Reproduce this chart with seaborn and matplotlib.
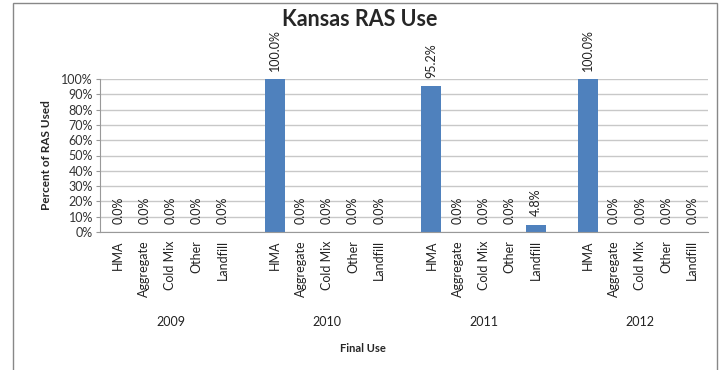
import pandas as pd
import matplotlib.pyplot as plt
import seaborn as sns
from matplotlib.patches import Rectangle

# data
years = ["2009", "2010", "2011", "2012"]
uses = ["HMA", "Aggregate", "Cold Mix", "Other", "Landfill"]
pct_2009 = [0.0, 0.0, 0.0, 0.0, 0.0]
pct_2010 = [100.0, 0.0, 0.0, 0.0, 0.0]
pct_2011 = [95.2, 0.0, 0.0, 0.0, 4.8]
pct_2012 = [100.0, 0.0, 0.0, 0.0, 0.0]
all_pct = [pct_2009, pct_2010, pct_2011, pct_2012]

rows = []
for y, vals in zip(years, all_pct):
    for u, v in zip(uses, vals):
        rows.append({"slot": f"{y}-{u}", "year": y, "use": u, "pct": v})
df = pd.DataFrame(rows)

# slot order with an empty slot between year groups
order = []
for i, y in enumerate(years):
    order += [f"{y}-{u}" for u in uses]
    if i < len(years) - 1:
        order.append(f"gap{i}")

sns.set_style("white")
plt.rcParams['font.family'] = ['Lato', 'DejaVu Sans']
fig = plt.figure(figsize=(7.27, 3.70), dpi=100)
ax = fig.add_axes([100 / 727, 1 - 232 / 370, 608 / 727, 153 / 370])

sns.barplot(data=df, x="slot", y="pct", order=order, color="#4F81BD",
            width=0.76, edgecolor="none", saturation=1, ax=ax, errorbar=None)

# value labels
lbls = [f"{v:.1f}%" for v in df["pct"]]
ax.bar_label(ax.containers[0], labels=lbls, rotation=90, padding=6,
             fontsize=9, color="#222222")

ax.set_ylim(0, 100)
ax.set_xlim(-0.7, len(order) - 0.4)
ax.set_yticks(range(0, 101, 10))
ax.set_yticklabels([f"{t}%" for t in range(0, 101, 10)], fontsize=9, color="#333333")
ax.yaxis.grid(True, color="#c8c8c8", linewidth=1)
ax.set_axisbelow(True)
ax.tick_params(axis="y", length=3, color="#999999", pad=2, left=True)

# tick labels: skip the gap slots
tick_text = [s.split("-", 1)[1] if "-" in s else "" for s in order]
ax.set_xticks(range(len(order)))
ax.set_xticklabels(tick_text, rotation=90, fontsize=9, va="top", color="#222222")
ax.tick_params(axis="x", length=0, pad=6)

for side in ["top", "right"]:
    ax.spines[side].set_visible(False)
for side in ["left", "bottom"]:
    ax.spines[side].set_color("#999999")

ax.set_xlabel("")
ax.set_ylabel("Percent of RAS Used", fontsize=8.5, fontweight="bold", labelpad=7)

# year labels under each group
for i, y in enumerate(years):
    ax.text(i * 6 + 2, -59, y, ha="center", va="center", fontsize=9,
            transform=ax.transData, color="#222222")

fig.text(363 / 727, 1 - 348 / 370, "Final Use", ha="center", va="center",
         fontsize=8, fontweight="bold")
fig.text(360 / 727, 1 - 19 / 370, "Kansas RAS Use", ha="center", va="center",
         fontsize=15.5, fontweight="bold")

# outer chart frame
fig.patches.append(Rectangle((13 / 727, -0.05), 704 / 727, 1.042, transform=fig.transFigure,
                             fill=False, edgecolor="#888888", linewidth=1))

plt.savefig("out.png", dpi=100)
